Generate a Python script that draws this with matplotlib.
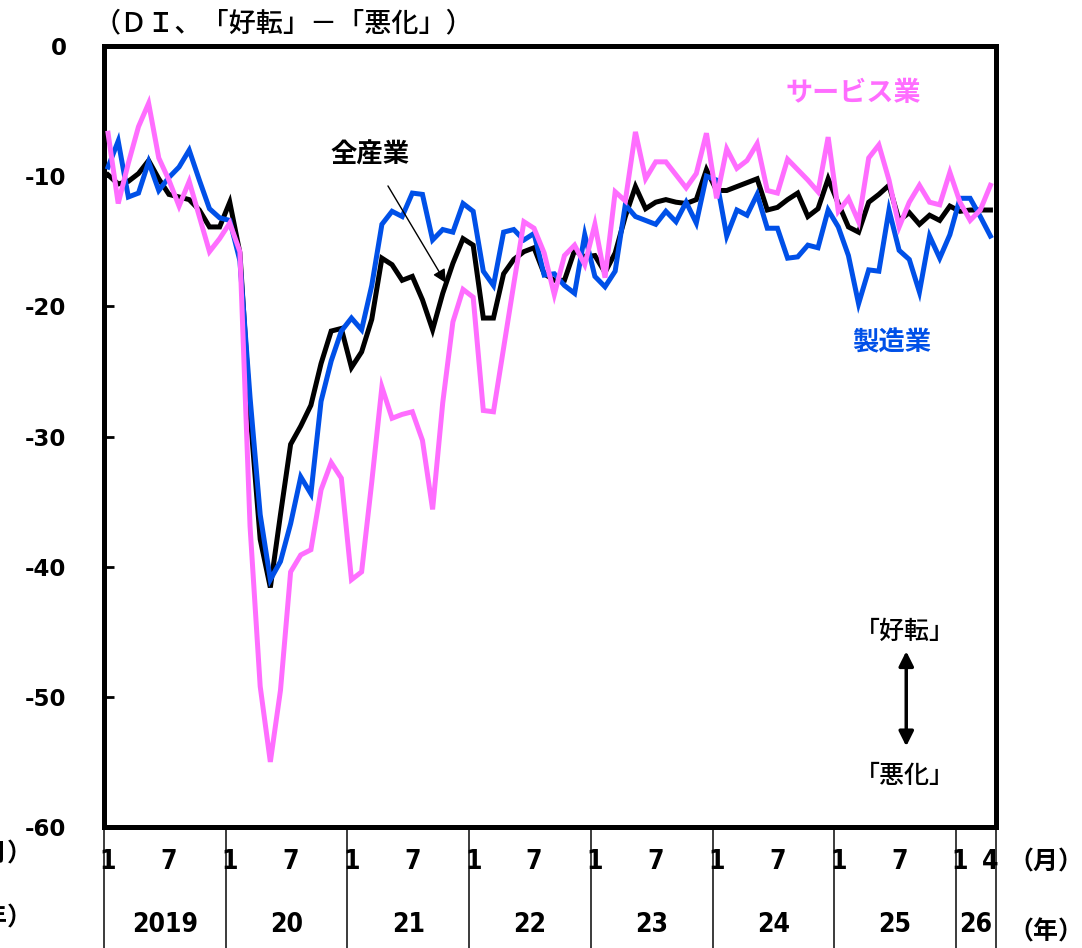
import matplotlib
matplotlib.use("Agg")
import matplotlib.pyplot as plt
from matplotlib import font_manager

# Monthly DI, Jan 2019 .. Apr 2026
all_industries = [
    -9.9, -10.6, -10.4, -9.8, -8.8, -10.2, -11.4, -11.6, -11.8, -12.6, -13.9, -13.9,
    -12.0, -15.9, -28.2, -37.9, -41.6, -36.0, -30.6, -29.2, -27.6, -24.4, -21.9, -21.7,
    -24.7, -23.5, -21.0, -16.3, -16.8, -18.0, -17.7, -19.5, -21.8, -19.0, -16.7, -14.8,
    -15.3, -20.9, -20.9, -17.5, -16.4, -15.8, -15.5, -17.5, -18.0, -18.0, -15.7, -16.2,
    -16.1, -17.4, -15.9, -13.1, -10.8, -12.5, -12.0, -11.8, -12.0, -12.1, -11.8, -9.5,
    -11.1, -11.1, -10.8, -10.5, -10.2, -12.6, -12.4, -11.8, -11.3, -13.1, -12.5, -10.2,
    -12.1, -13.9, -14.3, -12.0, -11.4, -10.7, -13.4, -12.8, -13.7, -13.0, -13.4, -12.3,
    -12.7, -12.6, -12.6, -12.6,
]
manufacturing = [
    -9.3, -7.3, -11.6, -11.3, -8.9, -11.1, -10.1, -9.3, -8.0, -10.3, -12.5, -13.2,
    -13.4, -16.5, -27.0, -36.0, -41.0, -39.6, -36.7, -33.1, -34.4, -27.3, -24.2, -21.9,
    -20.9, -21.8, -18.4, -13.7, -12.7, -13.1, -11.3, -11.4, -14.9, -14.1, -14.3, -12.1,
    -12.7, -17.3, -18.4, -14.3, -14.1, -14.9, -14.4, -17.6, -17.5, -18.4, -19.0, -14.5,
    -17.7, -18.5, -17.3, -12.2, -13.1, -13.4, -13.7, -12.7, -13.5, -12.0, -13.6, -10.0,
    -10.3, -14.6, -12.6, -13.0, -11.4, -14.0, -14.0, -16.3, -16.2, -15.3, -15.5, -12.6,
    -13.9, -16.1, -19.8, -17.2, -17.3, -12.6, -15.7, -16.4, -18.9, -14.6, -16.3, -14.5,
    -11.7, -11.7, -13.1, -14.6,
]
services = [
    -6.7, -12.1, -9.0, -6.2, -4.4, -8.6, -10.3, -12.3, -10.4, -13.1, -15.8, -14.8,
    -13.6, -15.8, -36.9, -49.2, -55.0, -49.5, -40.4, -39.1, -38.7, -34.1, -32.0, -33.2,
    -41.0, -40.4, -33.5, -26.2, -28.6, -28.3, -28.1, -30.3, -35.6, -27.4, -21.2, -18.7,
    -19.3, -28.0, -28.1, -23.2, -18.3, -13.5, -14.0, -15.9, -19.1, -16.1, -15.3, -16.8,
    -13.7, -17.8, -11.2, -11.9, -6.6, -10.2, -8.9, -8.9, -9.9, -10.9, -9.8, -6.7,
    -11.7, -7.9, -9.4, -8.8, -7.5, -11.1, -11.3, -8.7, -9.5, -10.3, -11.2, -7.0,
    -12.7, -11.7, -13.5, -8.6, -7.6, -10.3, -13.9, -12.0, -10.7, -12.0, -12.2, -9.7,
    -12.0, -13.4, -12.6, -10.7,
]

y_ticks = [0, -10, -20, -30, -40, -50, -60]
y_tick_labels = ["0", "-10", "-20", "-30", "-40", "-50", "-60"]
year_labels = ["2019", "20", "21", "22", "23", "24", "25", "26"]
month_ticks = [1, 7]

PINK = "#FF6DFF"
BLUE = "#0050E8"
JP = ["Noto Sans CJK JP", "DejaVu Sans"]

# narrow face for the month / year rows, if one is installed
narrow = [f for f in font_manager.fontManager.ttflist
          if f.stretch in ("condensed", "semi-condensed", "extra-condensed")
          and f.weight in ("bold", 700)]
if narrow:
    NUM_FONT = dict(family=narrow[0].name, fontstretch=narrow[0].stretch,
                    fontweight="bold", fontsize=19)
else:
    NUM_FONT = dict(family="Liberation Sans", fontweight="bold", fontsize=18)

n = len(all_industries)
x = list(range(n))
x_left, x_right = -0.4, n - 0.45

fig = plt.figure(figsize=(10.82, 9.48), dpi=100)
ax = fig.add_axes([104 / 1082, 1 - 827 / 948, (996 - 104) / 1082, (827 - 46) / 948])

ax.plot(x, all_industries, color="black", lw=3.6, zorder=3, solid_joinstyle="miter")
ax.plot(x, manufacturing, color=BLUE, lw=3.6, zorder=4, solid_joinstyle="miter")
ax.plot(x, services, color=PINK, lw=3.6, zorder=5, solid_joinstyle="miter")

ax.set_xlim(x_left, x_right)
ax.set_ylim(-60, 0)
ax.set_yticks(y_ticks)
ax.set_yticklabels(y_tick_labels, fontsize=16.5, fontweight="bold", family="DejaVu Sans")
ax.tick_params(axis="y", direction="in", length=7, width=2, pad=27)
ax.set_xticks([])
for sp in ax.spines.values():
    sp.set_linewidth(3.6)

# year separators and month / year rows under the frame
xt = ax.get_xaxis_transform()
seps = [x_left + 12 * k for k in range(8)] + [x_right]
for s in seps:
    ax.plot([s, s], [0, -0.16], transform=xt, color="0.1", lw=1.2, clip_on=False)

for i in range(n):
    m = i % 12 + 1
    if m in month_ticks or i == n - 1:
        ax.text(i, -0.045, str(m), transform=xt, ha="center", va="center", **NUM_FONT)
for k, lab in enumerate(year_labels):
    mid = (seps[k] + seps[k + 1]) / 2
    ax.text(mid, -0.126, lab, transform=xt, ha="center", va="center", **NUM_FONT)

fig.text(1008 / 1082, 1 - 862 / 948, "（月）", ha="left", va="center",
         fontsize=18, fontweight="bold", family=JP)
fig.text(1008 / 1082, 1 - 932 / 948, "（年）", ha="left", va="center",
         fontsize=18, fontweight="bold", family=JP)
# the same unit labels repeated at the far left, running off the edge
fig.text(32 / 1082, 1 - 855 / 948, "（月）", ha="right", va="center",
         fontsize=18, fontweight="bold", family=JP)
fig.text(32 / 1082, 1 - 918 / 948, "（年）", ha="right", va="center",
         fontsize=18, fontweight="bold", family=JP)

fig.text(94 / 1082, 1 - 24 / 948, "（ＤＩ、「好転」－「悪化」）", ha="left", va="center",
         fontsize=19.5, fontweight="medium", family=JP)

# series labels
ax.annotate("全産業", xy=(33.3, -18.2), xytext=(25.8, -8.4),
            ha="center", va="center", fontsize=19, fontweight="bold", family=JP,
            arrowprops=dict(arrowstyle="-|>", color="black", lw=1.0,
                            mutation_scale=20, shrinkA=12, shrinkB=0),
            zorder=6)
ax.text(73.5, -3.6, "サービス業", color=PINK, ha="center", va="center",
        fontsize=19.5, fontweight="bold", family=JP)
ax.text(77.3, -22.8, "製造業", color=BLUE, ha="center", va="center",
        fontsize=19, fontweight="bold", family=JP)

# direction key
ax.text(78.6, -45.0, "「好転」", ha="center", va="center", fontsize=18,
        fontweight="medium", family=JP)
ax.text(78.6, -56.1, "「悪化」", ha="center", va="center", fontsize=18,
        fontweight="medium", family=JP)
ax.annotate("", xy=(78.7, -46.5), xytext=(78.7, -53.8),
            arrowprops=dict(arrowstyle="<|-|>", color="black", lw=2.5,
                            mutation_scale=22, shrinkA=0, shrinkB=0))

fig.savefig("out.png", dpi=100)
